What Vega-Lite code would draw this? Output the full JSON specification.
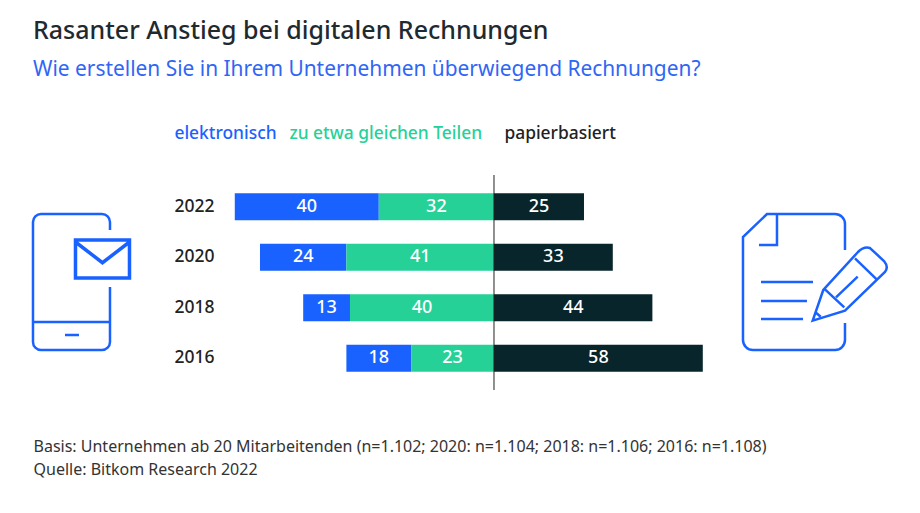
{
"$schema":"https://vega.github.io/schema/vega-lite/v6.json",
"autosize":"none",
"padding":{"left":226,"top":175,"right":200,"bottom":123},
"width":494,
"height":215,
"background":"white",
"config":{"view":{"stroke":null},"font":"Noto Sans"},
"title":{"text":"Rasanter Anstieg bei digitalen Rechnungen","subtitle":"Wie erstellen Sie in Ihrem Unternehmen überwiegend Rechnungen?","anchor":"start","frame":"group","dx":-193,"offset":45,"fontSize":25,"fontWeight":500,"color":"#1f2a30","subtitleFontSize":20.9,"subtitleColor":"#2f66f5","subtitlePadding":15,"subtitleFontWeight":400},
"resolve":{"scale":{"y":"independent"}},
"layer":[
{"data":{"name":"shares","values":[
{"year":"2022","type":"elektronisch","value":40,"signed":-40,"rank":2},
{"year":"2022","type":"zu etwa gleichen Teilen","value":32,"signed":-32,"rank":1},
{"year":"2022","type":"papierbasiert","value":25,"signed":25,"rank":1},
{"year":"2020","type":"elektronisch","value":24,"signed":-24,"rank":2},
{"year":"2020","type":"zu etwa gleichen Teilen","value":41,"signed":-41,"rank":1},
{"year":"2020","type":"papierbasiert","value":33,"signed":33,"rank":1},
{"year":"2018","type":"elektronisch","value":13,"signed":-13,"rank":2},
{"year":"2018","type":"zu etwa gleichen Teilen","value":40,"signed":-40,"rank":1},
{"year":"2018","type":"papierbasiert","value":44,"signed":44,"rank":1},
{"year":"2016","type":"elektronisch","value":18,"signed":-18,"rank":2},
{"year":"2016","type":"zu etwa gleichen Teilen","value":23,"signed":-23,"rank":1},
{"year":"2016","type":"papierbasiert","value":58,"signed":58,"rank":1}
]},
"mark":{"type":"bar"},
"encoding":{
"x":{"field":"signed","type":"quantitative","stack":"zero","scale":{"domain":[-74.44,62.78],"nice":false,"zero":false},
"axis":{"domain":false,"ticks":false,"labels":false,"grid":false,
"title":["Basis: Unternehmen ab 20 Mitarbeitenden (n=1.102; 2020: n=1.104; 2018: n=1.106; 2016: n=1.108)","Quelle: Bitkom Research 2022"],
"titleX":-193,"titleY":61,"titleAlign":"left","titleAnchor":"start","titleBaseline":"alphabetic","titleFontSize":16,"titleFontWeight":400,"titleColor":"#333333","titleLineHeight":23}},
"y":{"field":"year","type":"nominal","sort":["2022","2020","2018","2016"],"scale":{"paddingInner":0.465,"paddingOuter":0.361},
"axis":{"title":null,"domain":false,"ticks":false,"labelPadding":12,"labelFontSize":17.5,"labelFontWeight":500,"labelColor":"#222222"}},
"color":{"field":"type","type":"nominal","scale":{"domain":["elektronisch","zu etwa gleichen Teilen","papierbasiert"],"range":["#1a62ff","#26d198","#07252b"]},
"legend":{"title":null,"orient":"none","legendX":-69,"legendY":-50,"direction":"horizontal","columns":3,"gridAlign":"each","columnPadding":0,"symbolSize":0,"symbolStrokeWidth":0,"symbolOpacity":0,"labelOffset":0,"symbolOffset":0,"labelLimit":400,"labelFontSize":17.4,"labelFontWeight":500,"encode":{"labels":{"update":{"dx":{"signal":"datum.value==='zu etwa gleichen Teilen'?-5:datum.value==='papierbasiert'?4:0"},"fill":{"signal":"datum.value==='papierbasiert'?'#222222':scale('color',datum.value)"}}}}}},
"order":{"field":"rank","type":"ordinal"}
}},
{"data":{"name":"shares"},
"mark":{"type":"text","color":"white","fontSize":18,"fontWeight":500,"baseline":"middle"},
"encoding":{
"x":{"field":"signed","type":"quantitative","stack":"zero","bandPosition":0.5},
"y":{"field":"year","type":"nominal","sort":["2022","2020","2018","2016"],"scale":{"type":"band","paddingInner":0.465,"paddingOuter":0.361},"axis":null},
"text":{"field":"value","type":"quantitative"},
"order":{"field":"rank","type":"ordinal"},
"detail":{"field":"type"}
}},
{"data":{"values":[{"zero":0}]},
"mark":{"type":"rule","color":"#222222","strokeWidth":1},
"encoding":{"x":{"field":"zero","type":"quantitative"}}
},
{"data":{"values":[{"icon":"Smartphone"}]},
"mark":{"type":"point","size":4,"opacity":1,"filled":false,"color":"#1a62ff","strokeWidth":2.5,"clip":false,
"shape":"M38.5 -52 V-60 A8 8 0 0 0 30.5 -68 H-30.5 A8 8 0 0 0 -38.5 -60 V60 A8 8 0 0 0 -30.5 68 H30.5 A8 8 0 0 0 38.5 60 V5 M-38.5 40 H38.5 M-6.5 53 H7.5"},
"encoding":{"x":{"datum":-117.36,"type":"quantitative"},"y":{"datum":107,"type":"quantitative","scale":{"domain":[215,0]},"axis":null}}
},
{"data":{"values":[{"icon":"Umschlag"}]},
"mark":{"type":"point","size":4,"opacity":1,"filled":false,"color":"#1a62ff","strokeWidth":3.5,"clip":false,
"shape":"M-27 -19 H27 V19 H-27 Z M-27 -17 L0 3.7 L27 -17"},
"encoding":{"x":{"datum":-108.75,"type":"quantitative"},"y":{"datum":84,"type":"quantitative","scale":{"domain":[215,0]},"axis":null}}
},
{"data":{"values":[{"icon":"Dokument"}]},
"mark":{"type":"point","size":4,"opacity":1,"filled":false,"color":"#1a62ff","strokeWidth":2.5,"clip":false,
"shape":"M51 -32 V-58 A10 10 0 0 0 41 -68 H-27 L-51 -45 V58 A10 10 0 0 0 -41 68 H41 A10 10 0 0 0 51 58 V41 M-17 -68 V-37 H-35 M-33 0 H19 M-33 19 H13 M-33 37 H9 M18.7 38.7 L29.3 8 L64 -30 Q70 -36 76 -34 L90 -21 Q95 -15 91 -10 L51 28.7 Z M61 -23.7 L82.7 -2.7 M31 7.3 L50.3 25.3 M42 15.3 L63.7 -5.3 M22 30.7 L26.7 34.7"},
"encoding":{"x":{"datum":83.33,"type":"quantitative"},"y":{"datum":107,"type":"quantitative","scale":{"domain":[215,0]},"axis":null}}
}
]
}
